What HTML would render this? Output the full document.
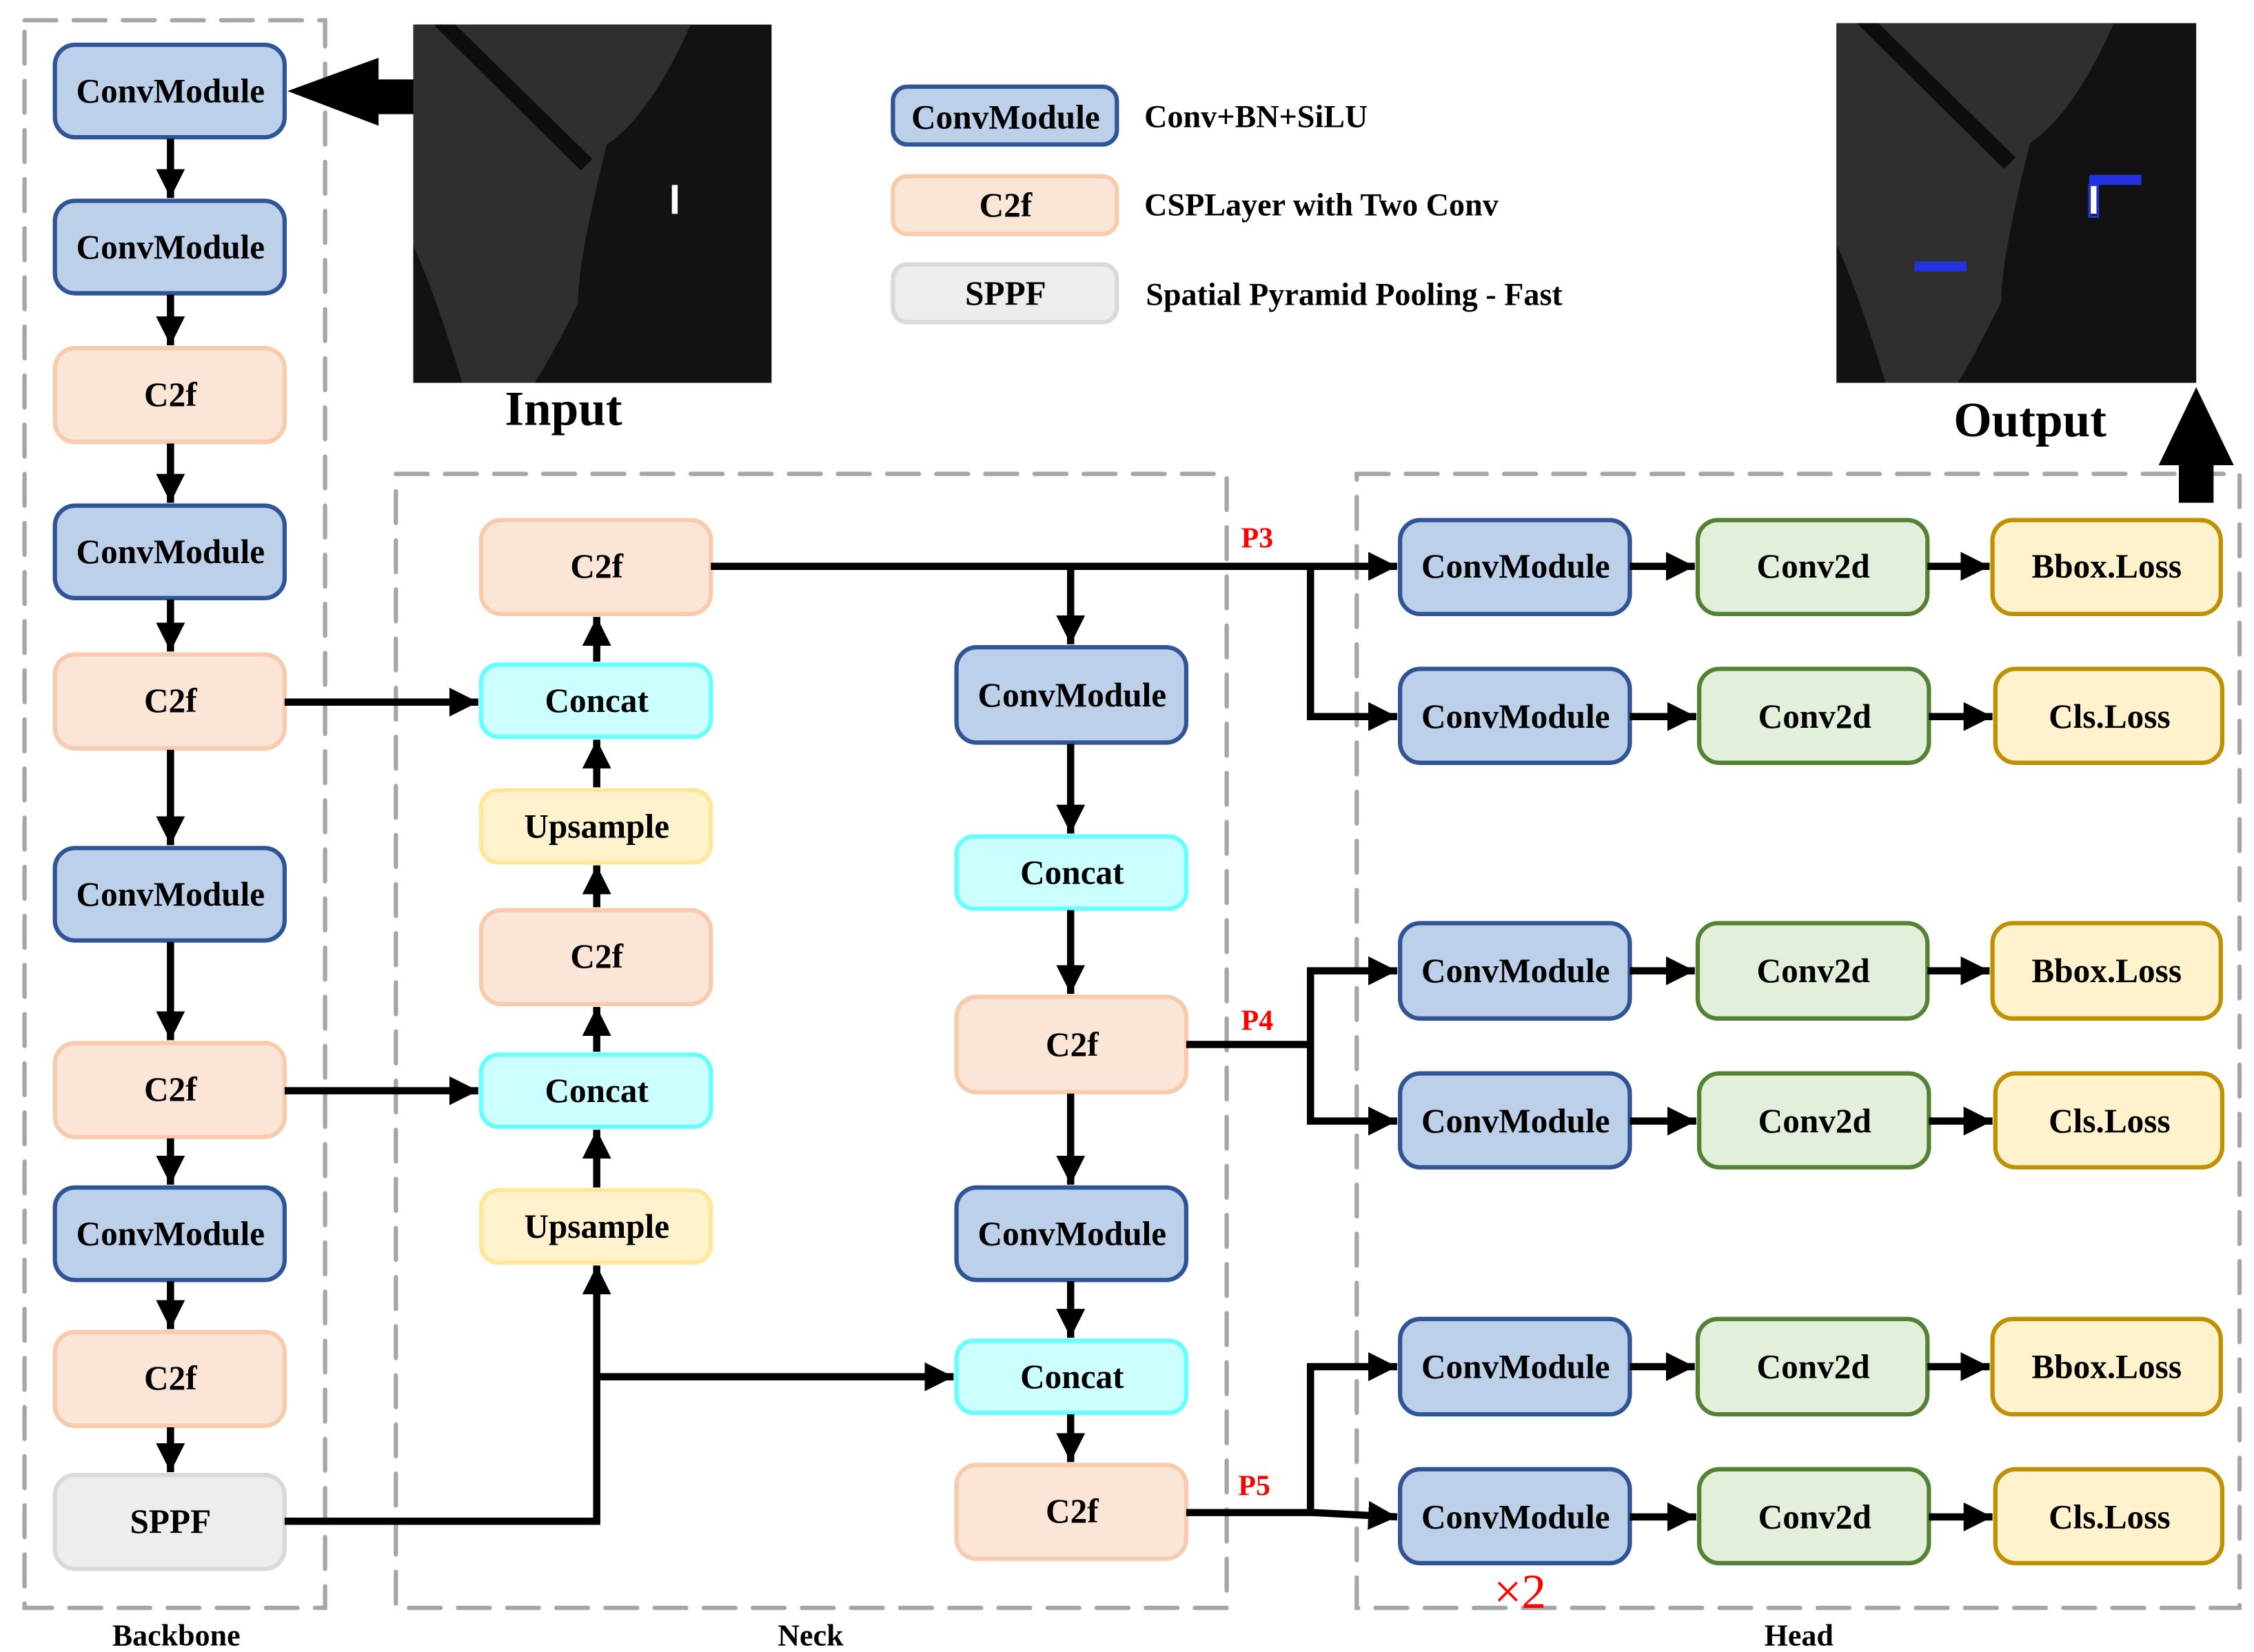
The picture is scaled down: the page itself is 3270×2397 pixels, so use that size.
<!DOCTYPE html>
<html><head><meta charset="utf-8"><style>
html,body{margin:0;padding:0;background:#fff;}
svg{display:block;}
text{font-family:"Liberation Serif",serif;font-weight:bold;}
</style></head><body>
<svg width="3270" height="2397" viewBox="0 0 1560 1143.5" xmlns="http://www.w3.org/2000/svg">
<defs>
<marker id="a" markerUnits="userSpaceOnUse" markerWidth="22" markerHeight="22" refX="20" refY="10" orient="auto"><path d="M0,0 L20,10 L0,20 Z" fill="#000"/></marker>
<style>
.ln{stroke:#000;stroke-width:5;fill:none;}
.ar{stroke:#000;stroke-width:5;fill:none;marker-end:url(#a);}
.dash{fill:none;stroke:#a6a6a6;stroke-width:3;stroke-dasharray:22,12;stroke-linecap:round;}
.cm{fill:#bdd0e9;stroke:#2f5597;stroke-width:3;}
.cf{fill:#fbe5d6;stroke:#f8cbad;stroke-width:3;}
.sp{fill:#ededed;stroke:#d9d9d9;stroke-width:3;}
.cc{fill:#ccffff;stroke:#66ffff;stroke-width:3;}
.up{fill:#fff2cc;stroke:#ffe699;stroke-width:3;}
.c2{fill:#e2efda;stroke:#548235;stroke-width:3;}
.ls{fill:#fff2cc;stroke:#bf9000;stroke-width:3;}
.t{font-size:23.5px;text-anchor:middle;dominant-baseline:central;}
.r{fill:#ff0000;font-size:20px;}
</style>
</defs>

<rect class="dash" x="17" y="14" width="208" height="1099"/>
<rect class="dash" x="274" y="328" width="575" height="785"/>
<rect class="dash" x="939" y="328" width="611" height="785"/>
<text x="122" y="1139" font-size="21" text-anchor="middle">Backbone</text>
<text x="561" y="1139" font-size="21" text-anchor="middle">Neck</text>
<text x="1245" y="1139" font-size="21" text-anchor="middle">Head</text>

<rect x="286" y="17" width="248" height="248" fill="#121212"/>
<path d="M286,17 L478,17 Q450,80 420,100 Q400,180 400,210 Q380,250 370,265 L320,265 Q300,200 286,170 Z" fill="#2f2f2f"/>
<path d="M300,17 L315,17 L410,110 L402,118 Z" fill="#0e0e0e"/>
<rect x="465" y="128" width="4" height="20" fill="#fff"/>
<text x="390" y="294" font-size="34" text-anchor="middle">Input</text>
<rect x="1271" y="16" width="249" height="249" fill="#121212"/>
<path d="M1271,16 L1463,16 Q1435,79 1405,99 Q1385,179 1385,209 Q1365,249 1355,265 L1305,265 Q1285,199 1271,169 Z" fill="#2f2f2f"/>
<path d="M1285,16 L1300,16 L1395,109 L1387,117 Z" fill="#0e0e0e"/>
<rect x="1447" y="128" width="4" height="20" fill="#fff"/>
<rect x="1446" y="121" width="36" height="7" fill="#2233dd"/>
<rect x="1446" y="128" width="6" height="22" fill="none" stroke="#2233dd" stroke-width="1.5"/>
<rect x="1325" y="181" width="36" height="7" fill="#2233dd"/>
<text x="1405" y="302" font-size="34" text-anchor="middle">Output</text>

<polygon points="199,63 262,40 262,55 286,55 286,79 262,79 262,87" fill="#000"/>
<polygon points="1520,268 1546,322 1532,322 1532,348 1508,348 1508,322 1494,322" fill="#000"/>

<rect class="cm" x="618" y="60" width="155" height="40" rx="10"/><text class="t" x="696" y="81">ConvModule</text>
<text x="792" y="88" font-size="22">Conv+BN+SiLU</text>
<rect class="cf" x="618" y="122" width="155" height="40" rx="10"/><text class="t" x="696" y="142">C2f</text>
<text x="792" y="149" font-size="22">CSPLayer with Two Conv</text>
<rect class="sp" x="618" y="183" width="155" height="40" rx="10"/><text class="t" x="696" y="203" font-size="20">SPPF</text>
<text x="793" y="211" font-size="22">Spatial Pyramid Pooling - Fast</text>

<rect class="cm" x="38" y="31" width="159" height="64" rx="14"/><text class="t" x="118" y="63">ConvModule</text>
<rect class="cm" x="38" y="139" width="159" height="64" rx="14"/><text class="t" x="118" y="171">ConvModule</text>
<rect class="cf" x="38" y="241" width="159" height="65" rx="14"/><text class="t" x="118" y="273">C2f</text>
<rect class="cm" x="38" y="350" width="159" height="64" rx="14"/><text class="t" x="118" y="382">ConvModule</text>
<rect class="cf" x="38" y="453" width="159" height="65" rx="14"/><text class="t" x="118" y="485">C2f</text>
<rect class="cm" x="38" y="587" width="159" height="64" rx="14"/><text class="t" x="118" y="619">ConvModule</text>
<rect class="cf" x="38" y="722" width="159" height="65" rx="14"/><text class="t" x="118" y="754">C2f</text>
<rect class="cm" x="38" y="822" width="159" height="64" rx="14"/><text class="t" x="118" y="854">ConvModule</text>
<rect class="cf" x="38" y="922" width="159" height="65" rx="14"/><text class="t" x="118" y="954">C2f</text>
<rect class="sp" x="38" y="1021" width="159" height="65" rx="14"/><text class="t" x="118" y="1053">SPPF</text>
<path class="ar" d="M118,96 V137"/>
<path class="ar" d="M118,204 V239"/>
<path class="ar" d="M118,307 V348"/>
<path class="ar" d="M118,415 V451"/>
<path class="ar" d="M118,519 V585"/>
<path class="ar" d="M118,652 V720"/>
<path class="ar" d="M118,788 V820"/>
<path class="ar" d="M118,887 V920"/>
<path class="ar" d="M118,988 V1019"/>

<rect class="cf" x="333" y="360" width="159" height="65" rx="14"/><text class="t" x="413" y="392">C2f</text>
<rect class="cc" x="333" y="460" width="159" height="50" rx="12"/><text class="t" x="413" y="485">Concat</text>
<rect class="up" x="333" y="547" width="159" height="50" rx="12"/><text class="t" x="413" y="572">Upsample</text>
<rect class="cf" x="333" y="630" width="159" height="65" rx="14"/><text class="t" x="413" y="662">C2f</text>
<rect class="cc" x="333" y="730" width="159" height="50" rx="12"/><text class="t" x="413" y="755">Concat</text>
<rect class="up" x="333" y="824" width="159" height="50" rx="12"/><text class="t" x="413" y="849">Upsample</text>
<path class="ar" d="M413,458 V427"/>
<path class="ar" d="M413,545 V512"/>
<path class="ar" d="M413,628 V599"/>
<path class="ar" d="M413,728 V697"/>
<path class="ar" d="M413,822 V782"/>
<path class="ar" d="M197,486 H331"/>
<path class="ar" d="M197,755 H331"/>
<path class="ar" d="M197,1053 H413 V876"/>
<path class="ar" d="M413,953 H660"/>

<rect class="cm" x="662" y="448" width="159" height="66" rx="14"/><text class="t" x="742" y="481">ConvModule</text>
<rect class="cc" x="662" y="579" width="159" height="50" rx="12"/><text class="t" x="742" y="604">Concat</text>
<rect class="cf" x="662" y="690" width="159" height="66" rx="14"/><text class="t" x="742" y="723">C2f</text>
<rect class="cm" x="662" y="822" width="159" height="64" rx="14"/><text class="t" x="742" y="854">ConvModule</text>
<rect class="cc" x="662" y="928" width="159" height="50" rx="12"/><text class="t" x="742" y="953">Concat</text>
<rect class="cf" x="662" y="1014" width="159" height="65" rx="14"/><text class="t" x="742" y="1046">C2f</text>
<path class="ar" d="M741,392 V446"/>
<path class="ar" d="M741,515 V577"/>
<path class="ar" d="M741,630 V688"/>
<path class="ar" d="M741,757 V820"/>
<path class="ar" d="M741,887 V926"/>
<path class="ar" d="M741,979 V1012"/>

<path class="ar" d="M492,392 H967"/>
<path class="ar" d="M907,392 V496 H967"/>
<text class="r" x="859" y="379">P3</text>
<path class="ln" d="M821,723 H907"/>
<path class="ar" d="M907,723 V672 H967"/>
<path class="ar" d="M907,723 V776 H967"/>
<text class="r" x="859" y="713">P4</text>
<path class="ar" d="M821,1047 H909 L967,1050"/>
<path class="ar" d="M907,1048 V946 H967"/>
<text class="r" x="857" y="1035">P5</text>

<g>
<rect class="cm" x="969" y="360" width="159" height="65" rx="14"/><text class="t" x="1049" y="392">ConvModule</text>
<rect class="c2" x="1175" y="360" width="159" height="65" rx="14"/><text class="t" x="1255" y="392">Conv2d</text>
<rect class="ls" x="1379" y="360" width="158" height="65" rx="14"/><text class="t" x="1458" y="392">Bbox.Loss</text>
<rect class="cm" x="969" y="463" width="159" height="65" rx="14"/><text class="t" x="1049" y="496">ConvModule</text>
<rect class="c2" x="1176" y="463" width="159" height="65" rx="14"/><text class="t" x="1256" y="496">Conv2d</text>
<rect class="ls" x="1381" y="463" width="157" height="65" rx="14"/><text class="t" x="1460" y="496">Cls.Loss</text>

<rect class="cm" x="969" y="639" width="159" height="66" rx="14"/><text class="t" x="1049" y="672">ConvModule</text>
<rect class="c2" x="1175" y="639" width="159" height="66" rx="14"/><text class="t" x="1255" y="672">Conv2d</text>
<rect class="ls" x="1379" y="639" width="158" height="66" rx="14"/><text class="t" x="1458" y="672">Bbox.Loss</text>
<rect class="cm" x="969" y="743" width="159" height="65" rx="14"/><text class="t" x="1049" y="776">ConvModule</text>
<rect class="c2" x="1176" y="743" width="159" height="65" rx="14"/><text class="t" x="1256" y="776">Conv2d</text>
<rect class="ls" x="1381" y="743" width="157" height="65" rx="14"/><text class="t" x="1460" y="776">Cls.Loss</text>

<rect class="cm" x="969" y="913" width="159" height="66" rx="14"/><text class="t" x="1049" y="946">ConvModule</text>
<rect class="c2" x="1175" y="913" width="159" height="66" rx="14"/><text class="t" x="1255" y="946">Conv2d</text>
<rect class="ls" x="1379" y="913" width="158" height="66" rx="14"/><text class="t" x="1458" y="946">Bbox.Loss</text>
<rect class="cm" x="969" y="1017" width="159" height="65" rx="14"/><text class="t" x="1049" y="1050">ConvModule</text>
<rect class="c2" x="1176" y="1017" width="159" height="65" rx="14"/><text class="t" x="1256" y="1050">Conv2d</text>
<rect class="ls" x="1381" y="1017" width="157" height="65" rx="14"/><text class="t" x="1460" y="1050">Cls.Loss</text>
</g>
<path class="ar" d="M1128,392 H1173"/><path class="ar" d="M1334,392 H1377"/>
<path class="ar" d="M1128,496 H1174"/><path class="ar" d="M1335,496 H1379"/>
<path class="ar" d="M1128,672 H1173"/><path class="ar" d="M1334,672 H1377"/>
<path class="ar" d="M1128,776 H1174"/><path class="ar" d="M1335,776 H1379"/>
<path class="ar" d="M1128,946 H1173"/><path class="ar" d="M1334,946 H1377"/>
<path class="ar" d="M1128,1050 H1174"/><path class="ar" d="M1335,1050 H1379"/>
<text x="1052" y="1113" font-size="34" fill="#ff0000" text-anchor="middle" style="font-weight:normal">×2</text>
</svg>
</body></html>
